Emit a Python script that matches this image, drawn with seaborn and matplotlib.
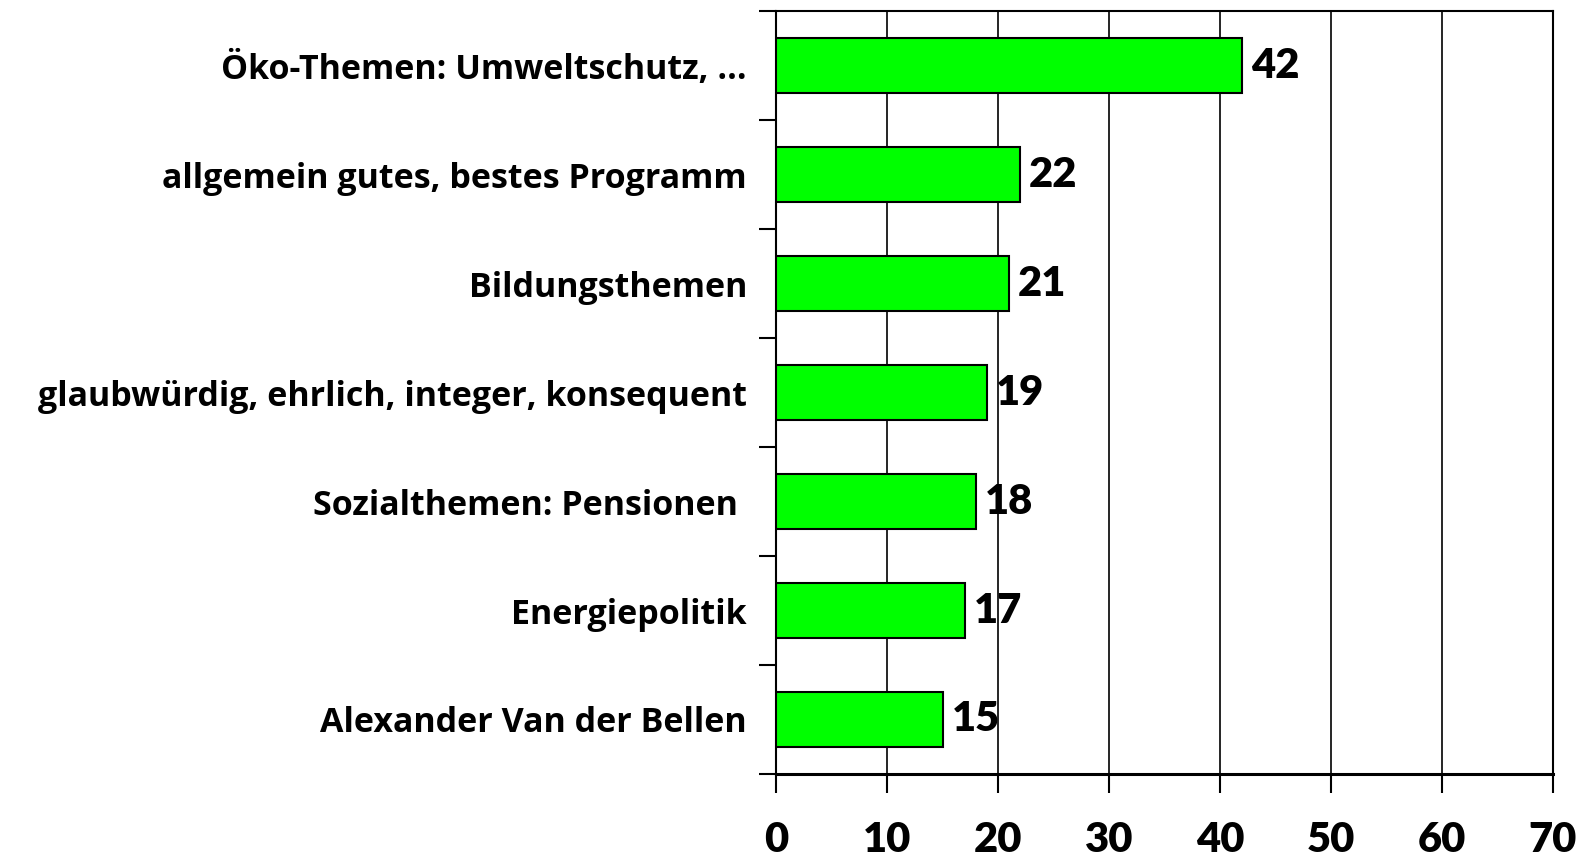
import matplotlib
matplotlib.use('Agg')
import matplotlib.pyplot as plt
import seaborn as sns
import numpy as np
import pandas as pd

# data
categories = ['Öko-Themen: Umweltschutz, ...',
              'allgemein gutes, bestes Programm',
              'Bildungsthemen',
              'glaubwürdig, ehrlich, integer, konsequent',
              'Sozialthemen: Pensionen ',
              'Energiepolitik',
              'Alexander Van der Bellen']
values = [42, 22, 21, 19, 18, 17, 15]
x_ticks = [0, 10, 20, 30, 40, 50, 60, 70]

df = pd.DataFrame({'Kategorie': categories, 'Prozent': values})

sns.set_theme(style='white')
plt.rcParams['font.family'] = ['Lato', 'DejaVu Sans']
plt.rcParams['font.weight'] = 'bold'
plt.rcParams['text.color'] = 'black'
plt.rcParams['xtick.color'] = 'black'
plt.rcParams['ytick.color'] = 'black'

fig = plt.figure(figsize=(15.87, 8.59), dpi=100)
ax = fig.add_axes([0.489, 0.099, 0.4896, 0.888])

sns.barplot(data=df, x='Prozent', y='Kategorie', color='#00ff00', saturation=1,
            edgecolor='black', linewidth=1.5, width=0.5, ax=ax, zorder=3)

ax.set_xlim(0, 70)
ax.set_ylim(6.5, -0.5)
ax.set_xticks(x_ticks)
ax.set_xticklabels([str(t) for t in x_ticks], fontsize=30, fontweight='heavy', color='black')
ax.grid(axis='x', color='black', linewidth=1.2, zorder=0)
ax.set_axisbelow(True)

# category labels, no major tick marks; minor ticks between categories
ax.tick_params(axis='y', which='major', length=0, pad=21)
for lab in ax.get_yticklabels():
    lab.set_fontfamily(['Open Sans', 'DejaVu Sans'])
    lab.set_fontweight('bold')
    lab.set_fontsize(24.5)
    lab.set_color('black')
ax.set_yticks(np.arange(-0.5, len(categories), 1.0), minor=True)
ax.tick_params(axis='y', which='minor', length=12, width=1.5, color='black', left=True)
ax.tick_params(axis='x', which='major', length=14, width=1.5, color='black', bottom=True, pad=20)

for side in ['left', 'bottom', 'top', 'right']:
    ax.spines[side].set_color('black')
    ax.spines[side].set_linewidth(1.5)
ax.spines['bottom'].set_linewidth(2.2)

ax.set_xlabel('')
ax.set_ylabel('')

for i, v in enumerate(values):
    ax.text(v + 0.8, i, str(v), va='center', ha='left', fontsize=30,
            fontweight='heavy', color='black', zorder=4)

fig.savefig('out.png', dpi=100)
